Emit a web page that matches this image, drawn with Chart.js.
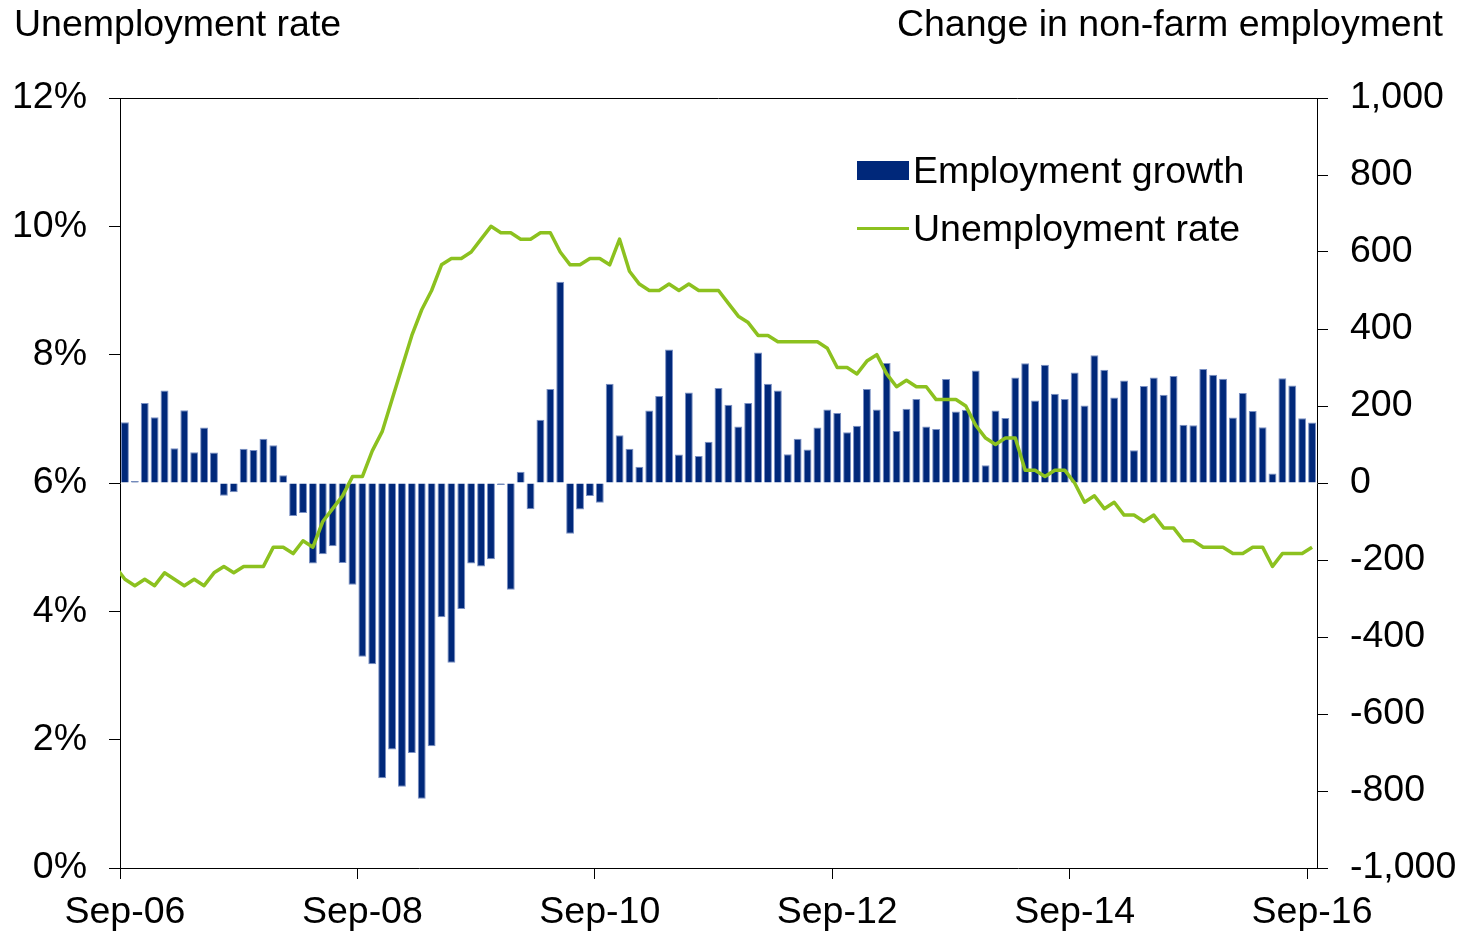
<!DOCTYPE html>
<html>
<head>
<meta charset="utf-8">
<script src="https://cdn.jsdelivr.net/npm/chart.js@4.4.1/dist/chart.umd.min.js"></script>
<style>
  html, body { margin: 0; padding: 0; background: #ffffff; }
  #c { display: block; }
</style>
</head>
<body>
<canvas id="c" width="1464" height="933" style="width:1464px;height:933px"></canvas>
<script>
// ---------- DATA ----------
const startYear = 2006, startMonth = 8; // Sep-06 (0-based month)
const monthCount = 121;                 // Sep-06 .. Sep-16
const monthNames = ['Jan','Feb','Mar','Apr','May','Jun','Jul','Aug','Sep','Oct','Nov','Dec'];
const categories = [];
for (let i = 0; i < monthCount; i++) {
  const m = (startMonth + i) % 12;
  const y = startYear + Math.floor((startMonth + i) / 12);
  categories.push(monthNames[m] + '-' + String(y % 100).padStart(2, '0'));
}
const tickLabels = ['Sep-06', 'Sep-08', 'Sep-10', 'Sep-12', 'Sep-14', 'Sep-16'];

// Change in non-farm employment (thousands), Sep-06 .. Sep-16
const employmentGrowth = [
  158, 5, 208, 171, 240, 90, 189, 80, 144, 79, -33, -24,
  89, 86, 115, 98, 20, -86, -78, -209, -185, -164, -208, -264,
  -451, -471, -767, -692, -789, -701, -820, -684, -349, -467, -327, -209,
  -217, -198, -5, -277, 29, -68, 164, 244, 523, -132, -69, -34,
  -51, 258, 124, 89, 42, 188, 226, 347, 74, 235, 70, 107,
  247, 203, 147, 208, 339, 258, 240, 75, 115, 87, 144, 191,
  182, 132, 149, 244, 191, 312, 135, 193, 218, 147, 140, 270,
  186, 190, 292, 46, 188, 169, 274, 311, 214, 307, 232, 218,
  287, 201, 332, 294, 222, 266, 85, 252, 274, 229, 278, 151,
  150, 296, 281, 271, 170, 234, 187, 145, 25, 272, 253, 168,
  157
];

// Unemployment rate (%), Sep-06 .. Sep-16
const priorRate = 4.7; // Aug-06, only its segment toward Sep-06 shows
const unemploymentRate = [
  4.5, 4.4, 4.5, 4.4, 4.6, 4.5, 4.4, 4.5, 4.4, 4.6, 4.7, 4.6,
  4.7, 4.7, 4.7, 5.0, 5.0, 4.9, 5.1, 5.0, 5.4, 5.6, 5.8, 6.1,
  6.1, 6.5, 6.8, 7.3, 7.8, 8.3, 8.7, 9.0, 9.4, 9.5, 9.5, 9.6,
  9.8, 10.0, 9.9, 9.9, 9.8, 9.8, 9.9, 9.9, 9.6, 9.4, 9.4, 9.5,
  9.5, 9.4, 9.8, 9.3, 9.1, 9.0, 9.0, 9.1, 9.0, 9.1, 9.0, 9.0,
  9.0, 8.8, 8.6, 8.5, 8.3, 8.3, 8.2, 8.2, 8.2, 8.2, 8.2, 8.1,
  7.8, 7.8, 7.7, 7.9, 8.0, 7.7, 7.5, 7.6, 7.5, 7.5, 7.3, 7.3,
  7.3, 7.2, 6.9, 6.7, 6.6, 6.7, 6.7, 6.2, 6.2, 6.1, 6.2, 6.2,
  6.0, 5.7, 5.8, 5.6, 5.7, 5.5, 5.5, 5.4, 5.5, 5.3, 5.3, 5.1,
  5.1, 5.0, 5.0, 5.0, 4.9, 4.9, 5.0, 5.0, 4.7, 4.9, 4.9, 4.9,
  5.0
];

const leftTitle = 'Unemployment rate';
const rightTitle = 'Change in non-farm employment';
const barLabel = 'Employment growth';
const lineLabel = 'Unemployment rate';

// ---------- STYLE ----------
const FONT = "'Liberation Sans', Arial, sans-serif";
const FS = 37.5;
const BAR_COLOR = '#00287A';
const BAR_EDGE = '#7A90C4';
const LINE_COLOR = '#8CC11F';

const linePoints = [{ x: -1, y: priorRate }].concat(
  unemploymentRate.map((v, i) => ({ x: i, y: v }))
);

const frameAndText = {
  id: 'frameAndText',
  afterDatasetsDraw(chart) {
    const { ctx, chartArea } = chart;
    ctx.save();
    // top border of plot
    ctx.strokeStyle = '#000';
    ctx.lineWidth = 1;
    ctx.beginPath();
    ctx.moveTo(chartArea.left, Math.round(chartArea.top) + 0.5);
    ctx.lineTo(chartArea.right, Math.round(chartArea.top) + 0.5);
    ctx.stroke();

    ctx.fillStyle = '#000';
    ctx.font = FS + 'px ' + FONT;
    ctx.textBaseline = 'alphabetic';
    ctx.textAlign = 'left';
    ctx.fillText(leftTitle, 14, 36);
    ctx.textAlign = 'right';
    ctx.fillText(rightTitle, 1443, 36);

    // legend
    const ds = chart.data.datasets;
    const barDs = ds.find(d => d.label === barLabel);
    const lineDs = ds.find(d => d.label === lineLabel);
    ctx.fillStyle = barDs.backgroundColor;
    ctx.fillRect(857, 161, 52, 19);
    ctx.strokeStyle = lineDs.borderColor;
    ctx.lineWidth = 3;
    ctx.beginPath();
    ctx.moveTo(857, 228.5);
    ctx.lineTo(909, 228.5);
    ctx.stroke();
    ctx.fillStyle = '#000';
    ctx.textAlign = 'left';
    ctx.fillText(barDs.label, 913, 183);
    ctx.fillText(lineDs.label, 913, 241);
    ctx.restore();
  }
};

new Chart(document.getElementById('c'), {
  type: 'bar',
  data: {
    labels: categories,
    datasets: [
      {
        type: 'line',
        label: lineLabel,
        data: linePoints,
        xAxisID: 'xl',
        yAxisID: 'y',
        borderColor: LINE_COLOR,
        backgroundColor: LINE_COLOR,
        borderWidth: 3.5,
        pointRadius: 0,
        tension: 0,
        borderJoinStyle: 'round',
        borderCapStyle: 'butt',
        clip: 0,
        order: 0
      },
      {
        type: 'bar',
        label: barLabel,
        data: employmentGrowth,
        xAxisID: 'x',
        yAxisID: 'y2',
        backgroundColor: BAR_COLOR,
        borderColor: BAR_EDGE,
        borderWidth: 1,
        barPercentage: 0.8,
        categoryPercentage: 1.0,
        grouped: false,
        order: 1
      }
    ]
  },
  options: {
    responsive: false,
    animation: false,
    devicePixelRatio: 1,
    layout: { padding: { top: 98, left: 0, right: 0, bottom: 0 } },
    plugins: {
      legend: { display: false },
      tooltip: { enabled: false },
      title: { display: false }
    },
    scales: {
      x: {
        type: 'category',
        position: 'bottom',
        offset: true,
        grid: {
          offset: true,
          drawOnChartArea: false,
          drawTicks: true,
          tickLength: 11,
          tickColor: c => (c.index % 24 === 0 ? '#000' : 'rgba(0,0,0,0)'),
          lineWidth: 1
        },
        border: { display: true, color: '#000', width: 1 },
        ticks: {
          autoSkip: false,
          maxRotation: 0,
          minRotation: 0,
          padding: 11,
          color: '#000',
          font: { family: FONT, size: FS },
          callback: function (v, i) {
            const lab = categories[i];
            return tickLabels.includes(lab) ? lab : '';
          }
        },
        afterFit: s => { s.height = 65; }
      },
      xl: {
        type: 'linear',
        display: false,
        offset: false,
        bounds: 'data',
        grace: 0,
        min: -0.5,
        max: monthCount - 0.5
      },
      y: {
        type: 'linear',
        position: 'left',
        min: 0,
        max: 12,
        grid: {
          drawOnChartArea: false,
          drawTicks: true,
          tickLength: 11,
          tickColor: '#000'
        },
        border: { display: true, color: '#000', width: 1 },
        ticks: {
          stepSize: 2,
          padding: 22,
          color: '#000',
          font: { family: FONT, size: FS },
          callback: v => v + '%'
        },
        afterFit: s => { s.width = 120; }
      },
      y2: {
        type: 'linear',
        position: 'right',
        min: -1000,
        max: 1000,
        grid: {
          drawOnChartArea: false,
          drawTicks: true,
          tickLength: 11,
          tickColor: '#000'
        },
        border: { display: true, color: '#000', width: 1 },
        ticks: {
          stepSize: 200,
          padding: 22,
          color: '#000',
          font: { family: FONT, size: FS },
          callback: v => v.toLocaleString('en-US')
        },
        afterFit: s => { s.width = 147; }
      }
    }
  },
  plugins: [frameAndText]
});
</script>
</body>
</html>
